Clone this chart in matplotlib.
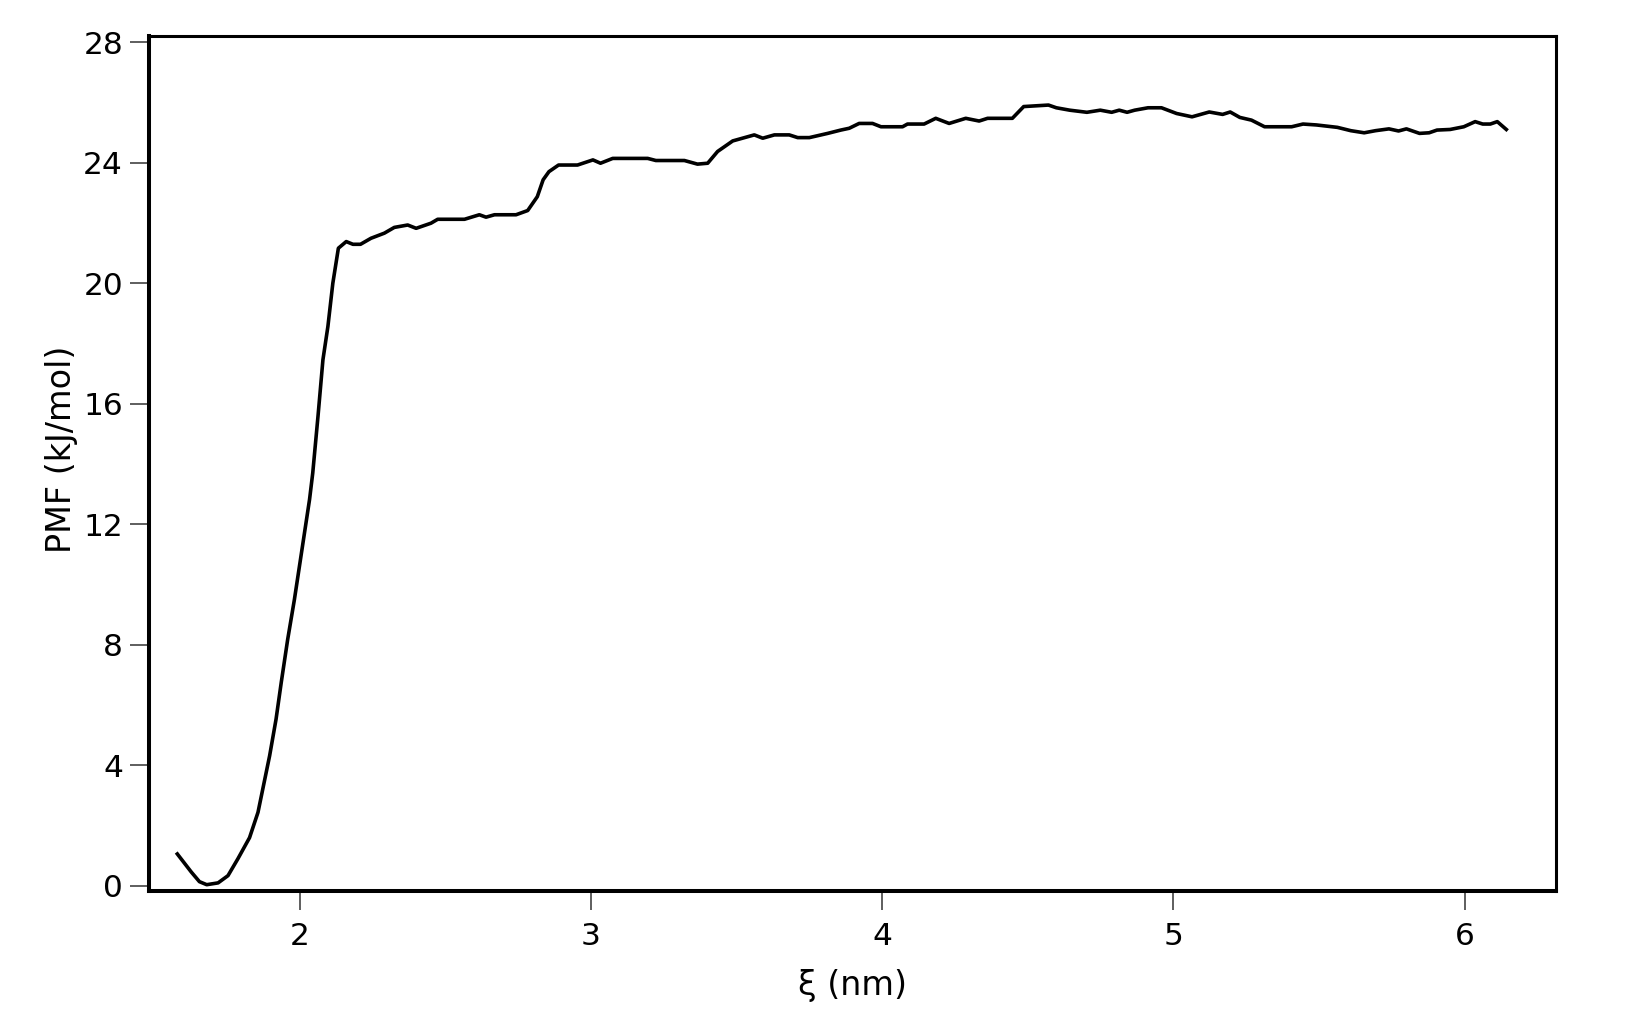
import numpy as np
import matplotlib
matplotlib.use('Agg')
import matplotlib.pyplot as plt

plt.rcParams['font.family'] = ['DejaVu Sans']

# PMF profile (xi in nm, PMF in kJ/mol)
xi = [1.580, 1.628, 1.656, 1.681, 1.720, 1.754, 1.788, 1.828, 1.857, 1.897,
      1.919, 1.937, 1.959, 1.982, 2.034, 2.045, 2.063, 2.080, 2.097, 2.114,
      2.133, 2.160, 2.183, 2.209, 2.245, 2.291, 2.325, 2.371, 2.400, 2.451,
      2.474, 2.566, 2.617, 2.640, 2.669, 2.743, 2.783, 2.816, 2.836, 2.856,
      2.889, 2.954, 3.007, 3.033, 3.075, 3.195, 3.223, 3.321, 3.366, 3.401,
      3.435, 3.487, 3.561, 3.590, 3.630, 3.681, 3.710, 3.750, 3.813, 3.858,
      3.887, 3.921, 3.967, 3.996, 4.070, 4.087, 4.144, 4.184, 4.230, 4.287,
      4.333, 4.362, 4.447, 4.486, 4.571, 4.598, 4.644, 4.703, 4.749, 4.788,
      4.814, 4.841, 4.867, 4.913, 4.959, 5.011, 5.064, 5.123, 5.169, 5.195,
      5.228, 5.268, 5.313, 5.406, 5.445, 5.491, 5.563, 5.609, 5.655, 5.694,
      5.740, 5.773, 5.800, 5.845, 5.878, 5.905, 5.950, 5.997, 6.036, 6.062,
      6.088, 6.112, 6.143]
pmf = [1.06, 0.46, 0.14, 0.04, 0.10, 0.34, 0.90, 1.60, 2.44, 4.32,
       5.53, 6.76, 8.18, 9.50, 12.82, 13.70, 15.58, 17.46, 18.56, 20.00,
       21.16, 21.38, 21.29, 21.29, 21.49, 21.66, 21.85, 21.93, 21.82, 21.99,
       22.12, 22.12, 22.27, 22.19, 22.27, 22.27, 22.41, 22.87, 23.43, 23.70,
       23.92, 23.92, 24.09, 23.98, 24.14, 24.14, 24.07, 24.07, 23.95, 23.98,
       24.37, 24.72, 24.92, 24.81, 24.92, 24.92, 24.83, 24.83, 24.97, 25.08,
       25.14, 25.30, 25.30, 25.19, 25.19, 25.28, 25.28, 25.47, 25.30, 25.47,
       25.38, 25.47, 25.47, 25.86, 25.91, 25.82, 25.74, 25.67, 25.74, 25.67,
       25.74, 25.67, 25.74, 25.82, 25.82, 25.63, 25.52, 25.68, 25.60, 25.68,
       25.50, 25.41, 25.19, 25.19, 25.28, 25.25, 25.17, 25.06, 24.99, 25.06,
       25.12, 25.05, 25.12, 24.97, 24.99, 25.08, 25.10, 25.19, 25.36, 25.28,
       25.28, 25.36, 25.10]

xticks = [2, 3, 4, 5, 6]
yticks = [0, 4, 8, 12, 16, 20, 24, 28]

fig = plt.figure(figsize=(16.42, 10.27), dpi=100)
ax = fig.add_axes([0.0906, 0.1327, 0.8571, 0.8322])

ax.plot(xi, pmf, color='black', linewidth=2.6, solid_joinstyle='round')

ax.set_xlim(1.482, 6.314)
ax.set_ylim(-0.16, 28.2)
ax.set_xticks(xticks)
ax.set_yticks(yticks)

# 轴线：左/下粗，上/右细
for side in ['left', 'bottom']:
    ax.spines[side].set_linewidth(2.9)
for side in ['top', 'right']:
    ax.spines[side].set_linewidth(2.2)

ax.tick_params(axis='both', direction='out', length=13.5, width=1.1,
               color='#333333', labelsize=22.5, pad=5)
ax.tick_params(axis='x', pad=9)

ax.set_xlabel('ξ (nm)', fontsize=24, labelpad=13)
ax.set_ylabel('PMF (kJ/mol)', fontsize=24)
ax.yaxis.set_label_coords(-0.05, 0.516)

fig.savefig('out.png', dpi=100)
